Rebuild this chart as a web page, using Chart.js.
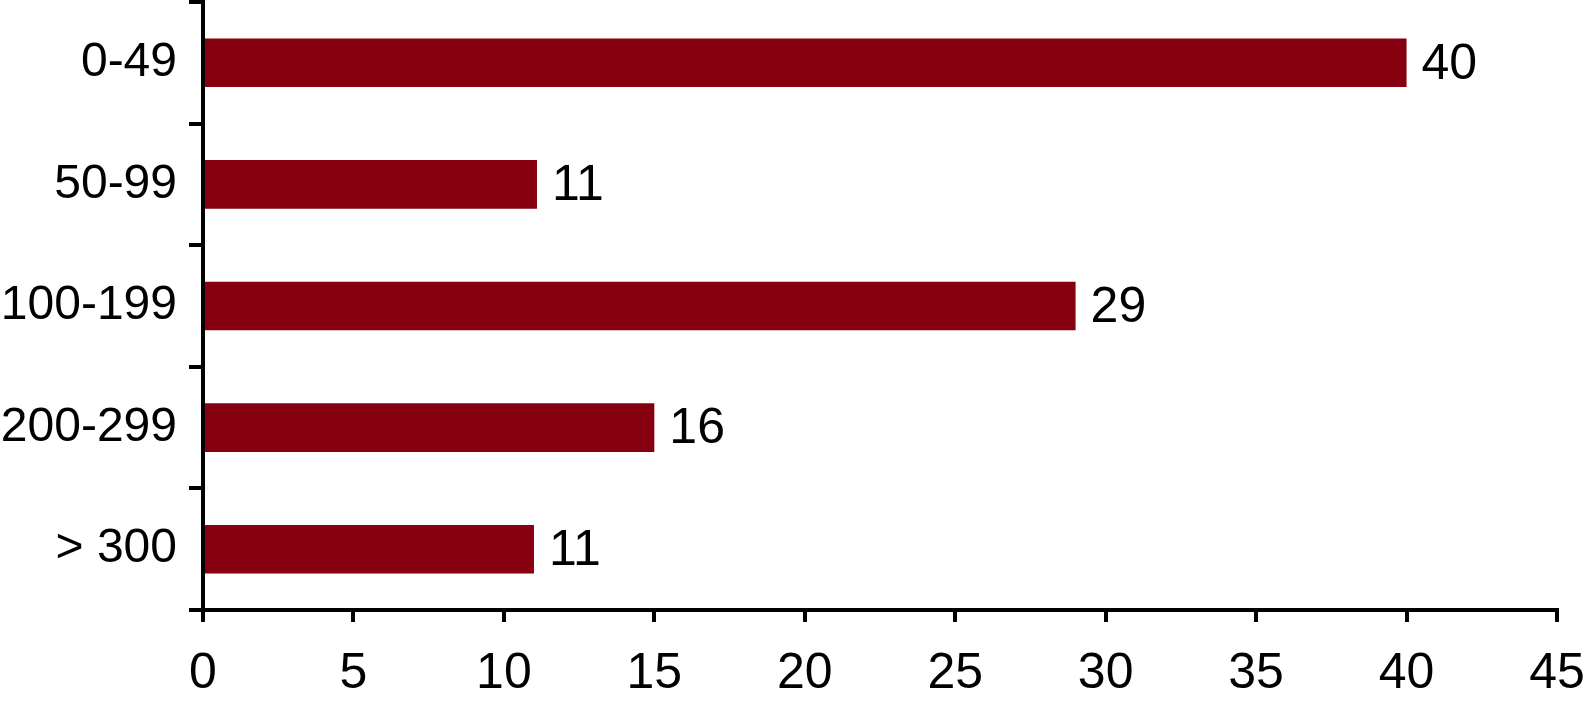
<!DOCTYPE html>
<html>
<head>
<meta charset="utf-8">
<script src="https://cdn.jsdelivr.net/npm/chart.js@4"></script>
<style>
  html, body { margin: 0; padding: 0; background: #fff; }
  #box { width: 1590px; height: 702px; }
</style>
</head>
<body>
<div id="box"><canvas id="graphique" width="1590" height="702"></canvas></div>
<script>
const categories = ['0-49', '50-99', '100-199', '200-299', '> 300'];
// bar lengths as drawn in the picture
const valeurs = [40, 11.1, 29, 15, 11];
// numbers printed next to the bars
const etiquettes = ['40', '11', '29', '16', '11'];
const ticksX = [0, 5, 10, 15, 20, 25, 30, 35, 40, 45];

Chart.defaults.font.family = '"Liberation Sans", Arial, sans-serif';
Chart.defaults.color = '#000';

const etiquettesPlugin = {
    id: 'etiquettes',
    afterDatasetsDraw(chart) {
        const ctx = chart.ctx;
        const meta = chart.getDatasetMeta(0);
        ctx.save();
        ctx.font = '50px "Liberation Sans", Arial, sans-serif';
        ctx.fillStyle = '#000';
        ctx.textAlign = 'left';
        ctx.textBaseline = 'middle';
        meta.data.forEach((bar, i) => {
            ctx.fillText(etiquettes[i], bar.x + 15, bar.y + 2);
        });
        ctx.restore();
    }
};

new Chart(document.getElementById('graphique'), {
    type: 'bar',
    data: {
        labels: categories,
        datasets: [{
            data: valeurs,
            backgroundColor: '#87000f',
            barPercentage: 0.4,
            categoryPercentage: 1
        }]
    },
    options: {
        indexAxis: 'y',
        responsive: false,
        animation: false,
        layout: { padding: { top: 2, right: 33, left: 0, bottom: 0 } },
        plugins: { legend: { display: false }, tooltip: { enabled: false } },
        scales: {
            x: {
                min: 0,
                max: 45,
                afterBuildTicks: scale => { scale.ticks = ticksX.map(v => ({ value: v })); },
                afterFit: scale => { scale.paddingLeft = 0; scale.paddingRight = 0; scale.height = 92; },
                ticks: { font: { size: 50 }, padding: 22, maxRotation: 0 },
                grid: { drawOnChartArea: false, tickLength: 12, lineWidth: 4, color: '#000' },
                border: { color: '#000', width: 4 }
            },
            y: {
                afterFit: scale => { scale.paddingTop = 0; scale.paddingBottom = 0; scale.width = 203; },
                ticks: { font: { size: 48 }, padding: 12 },
                grid: { drawOnChartArea: false, tickLength: 14, lineWidth: 4, color: '#000', offset: true },
                border: { color: '#000', width: 4 }
            }
        }
    },
    plugins: [etiquettesPlugin]
});
</script>
</body>
</html>
